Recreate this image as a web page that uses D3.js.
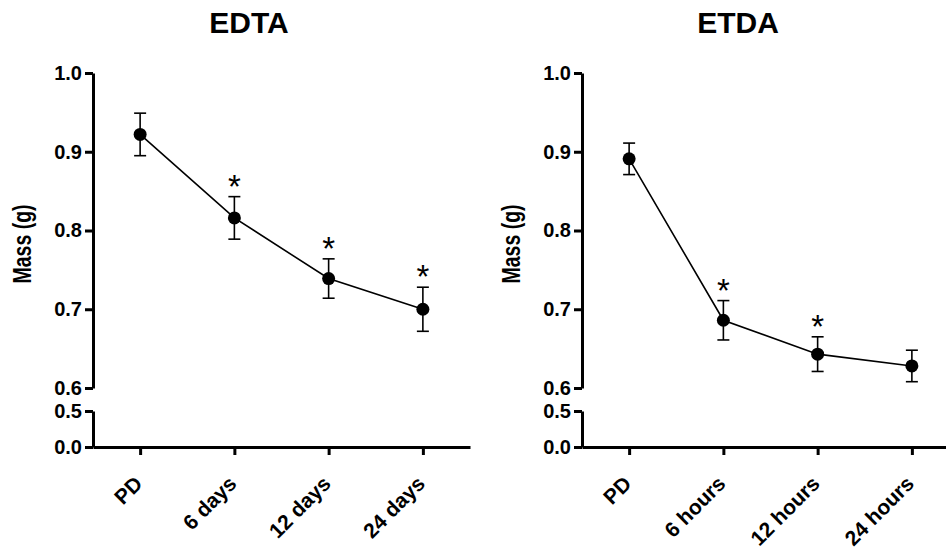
<!DOCTYPE html>
<meta charset="utf-8">
<html lang="en">
<head>
  <title>Mass over time</title>
  <script src="https://d3js.org/d3.v7.min.js"></script>
  <style>
    body { margin: 0; background: #fff; }
    text { font-family: "Liberation Sans", Arial, sans-serif; }
  </style>
</head>
<body>
<script>
// data
var edtaCats = ["PD", "6 days", "12 days", "24 days"];
var edtaMean = [0.922, 0.816, 0.739, 0.700];
var edtaErr  = [0.027, 0.027, 0.025, 0.028];
var edtaSig  = [false, true, true, true];

var etdaCats = ["PD", "6 hours", "12 hours", "24 hours"];
var etdaMean = [0.891, 0.686, 0.643, 0.628];
var etdaErr  = [0.020, 0.025, 0.022, 0.020];
var etdaSig  = [false, true, true, false];

var upperTicks = [0.6, 0.7, 0.8, 0.9, 1.0];
var lowerTicks = [0.0, 0.5];

var width = 946, height = 549;

var svg = d3.select("body").append("svg")
    .attr("width", width)
    .attr("height", height);

function panel(title, cats, mean, err, sig, x0) {
  var g = svg.append("g").attr("transform", "translate(" + x0 + ",0)");

  var x = d3.scalePoint().domain(cats).range([0, 377]).padding(0.5);
  var yTop = d3.scaleLinear().domain([0.6, 1.0]).range([388, 73]);
  var yBot = d3.scaleLinear().domain([0, 0.5]).range([447, 411]);

  // y axis, broken in two pieces
  g.append("g")
      .call(d3.axisLeft(yTop).tickValues(upperTicks).tickFormat(d3.format(".1f"))
        .tickSize(8).tickSizeOuter(0).tickPadding(3));
  g.append("g")
      .call(d3.axisLeft(yBot).tickValues(lowerTicks).tickFormat(d3.format(".1f"))
        .tickSize(8).tickSizeOuter(0).tickPadding(3));

  // x axis
  var axX = g.append("g")
      .attr("transform", "translate(0,447)")
      .call(d3.axisBottom(x).tickSize(8).tickSizeOuter(0));
  axX.selectAll("text")
      .attr("text-anchor", "end")
      .attr("x", 0).attr("y", 0)
      .attr("dx", null).attr("dy", null)
      .attr("transform", "translate(3,38) rotate(-45)");

  g.selectAll(".domain, .tick line")
      .attr("stroke", "#000")
      .attr("stroke-width", 3);
  g.selectAll(".tick text")
      .attr("fill", "#000")
      .style("font-size", "20px")
      .style("font-weight", "bold");
  axX.selectAll("text").style("font-size", "21px");

  // title and axis label
  g.append("text")
      .attr("x", 156).attr("y", 33)
      .attr("text-anchor", "middle")
      .style("font-size", "30px").style("font-weight", "bold")
      .text(title);
  g.append("text")
      .attr("transform", "translate(-62,244) rotate(-90) scale(0.78,1)")
      .attr("text-anchor", "middle")
      .style("font-size", "25px").style("font-weight", "bold")
      .text("Mass (g)");

  var pts = cats.map(function(c, i) {
    return { c: c, m: mean[i], e: err[i], s: sig[i] };
  });

  // connecting line
  g.append("path")
      .datum(pts)
      .attr("fill", "none")
      .attr("stroke", "#000")
      .attr("stroke-width", 1.6)
      .attr("d", d3.line()
        .x(function(d) { return x(d.c); })
        .y(function(d) { return yTop(d.m); }));

  // error bars
  var eb = g.append("g").selectAll("g").data(pts).enter().append("g");
  eb.append("line")
      .attr("x1", function(d) { return x(d.c); })
      .attr("x2", function(d) { return x(d.c); })
      .attr("y1", function(d) { return yTop(d.m + d.e); })
      .attr("y2", function(d) { return yTop(d.m - d.e); });
  eb.append("line")
      .attr("x1", function(d) { return x(d.c) - 6; })
      .attr("x2", function(d) { return x(d.c) + 6; })
      .attr("y1", function(d) { return yTop(d.m + d.e); })
      .attr("y2", function(d) { return yTop(d.m + d.e); });
  eb.append("line")
      .attr("x1", function(d) { return x(d.c) - 6; })
      .attr("x2", function(d) { return x(d.c) + 6; })
      .attr("y1", function(d) { return yTop(d.m - d.e); })
      .attr("y2", function(d) { return yTop(d.m - d.e); });
  eb.selectAll("line").attr("stroke", "#000").attr("stroke-width", 1.6);

  // points
  g.append("g").selectAll("circle").data(pts).enter().append("circle")
      .attr("cx", function(d) { return x(d.c); })
      .attr("cy", function(d) { return yTop(d.m); })
      .attr("r", 6.5)
      .attr("fill", "#000");

  // significance stars
  g.append("g").selectAll("text").data(pts.filter(function(d) { return d.s; }))
    .enter().append("text")
      .attr("x", function(d) { return x(d.c); })
      .attr("y", function(d) { return yTop(d.m + d.e) + 1; })
      .attr("text-anchor", "middle")
      .style("font-size", "33px")
      .text("*");
}

panel("EDTA", edtaCats, edtaMean, edtaErr, edtaSig, 93);
panel("ETDA", etdaCats, etdaMean, etdaErr, etdaSig, 582);
</script>
</body>
</html>
